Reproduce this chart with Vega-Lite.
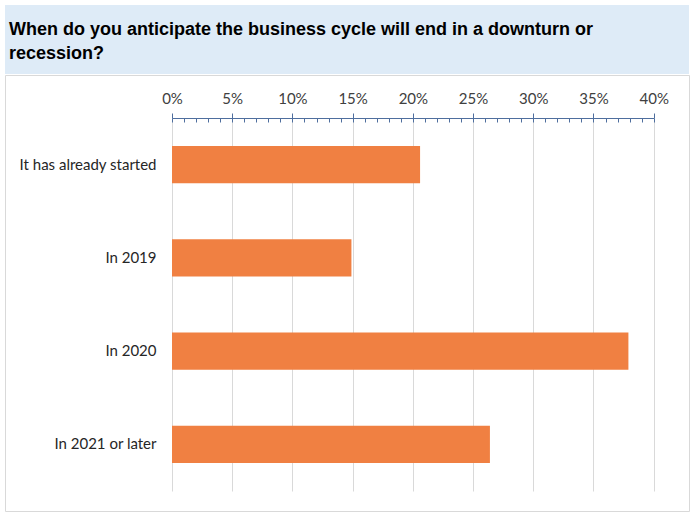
{
  "$schema": "https://vega.github.io/schema/vega-lite/v6.json",
  "padding": {"left": 4, "top": 5, "right": 6, "bottom": 6},
  "background": "white",
  "spacing": 0,
  "vconcat": [
    {
      "width": 684,
      "height": 69,
      "view": {"fill": "#DEEBF7", "stroke": null},
      "data": {"values": [{"question": "When do you anticipate the business cycle will end in a downturn or\nrecession?"}]},
      "mark": {"type": "text", "align": "left", "baseline": "alphabetic", "font": "Liberation Sans", "fontSize": 18, "fontWeight": "bold", "color": "#000000", "lineBreak": "\n", "lineHeight": 24},
      "encoding": {
        "text": {"field": "question", "type": "nominal"},
        "x": {"value": 4},
        "y": {"value": 30}
      }
    },
    {
      "width": 684,
      "height": 436,
      "view": {"fill": "white", "stroke": "#D9D9D9"},
      "data": {"values": [
        {"answer": "It has already started", "share": 0.206},
        {"answer": "In 2019", "share": 0.149},
        {"answer": "In 2020", "share": 0.379},
        {"answer": "In 2021 or later", "share": 0.264}
      ]},
      "encoding": {
        "y": {
          "field": "answer", "type": "nominal", "sort": null,
          "scale": {"range": [43, 416], "paddingInner": 0.6, "paddingOuter": 0.3},
          "axis": {"orient": "left", "offset": -151, "domain": false, "ticks": false, "labelPadding": 0, "labelFont": "Lato", "labelFontSize": 15, "labelColor": "#262626", "title": null, "grid": false}
        }
      },
      "layer": [
        {
          "mark": {"type": "bar", "color": "#F08042"},
          "encoding": {
            "x": {
              "field": "share", "type": "quantitative",
              "scale": {"domain": [0, 0.4], "range": [167, 648.7], "nice": false, "zero": true},
              "axis": {"orient": "top", "offset": -43, "values": [0, 0.05, 0.1, 0.15, 0.2, 0.25, 0.3, 0.35, 0.4], "format": ".0%", "title": null, "domainColor": "#4E6E9E", "domainWidth": 1, "tickColor": "#4E6E9E", "tickSize": 5, "labelFont": "Lato", "labelFontSize": 15, "labelColor": "#404040", "labelPadding": 7, "labelFlush": false, "labelOverlap": false, "grid": true, "gridColor": "#D9D9D9", "gridWidth": 1}
            }
          }
        },
        {
          "mark": {"type": "bar", "opacity": 0},
          "encoding": {
            "x": {
              "field": "share", "type": "quantitative",
              "axis": {"orient": "top", "offset": -43, "values": [0, 0.01, 0.02, 0.03, 0.04, 0.05, 0.06, 0.07, 0.08, 0.09, 0.1, 0.11, 0.12, 0.13, 0.14, 0.15, 0.16, 0.17, 0.18, 0.19, 0.2, 0.21, 0.22, 0.23, 0.24, 0.25, 0.26, 0.27, 0.28, 0.29, 0.3, 0.31, 0.32, 0.33, 0.34, 0.35, 0.36, 0.37, 0.38, 0.39, 0.4], "title": null, "labels": false, "domain": false, "grid": false, "tickColor": "#4E6E9E", "tickSize": -4}
            }
          }
        }
      ],
      "resolve": {"axis": {"x": "independent"}}
    }
  ]
}
